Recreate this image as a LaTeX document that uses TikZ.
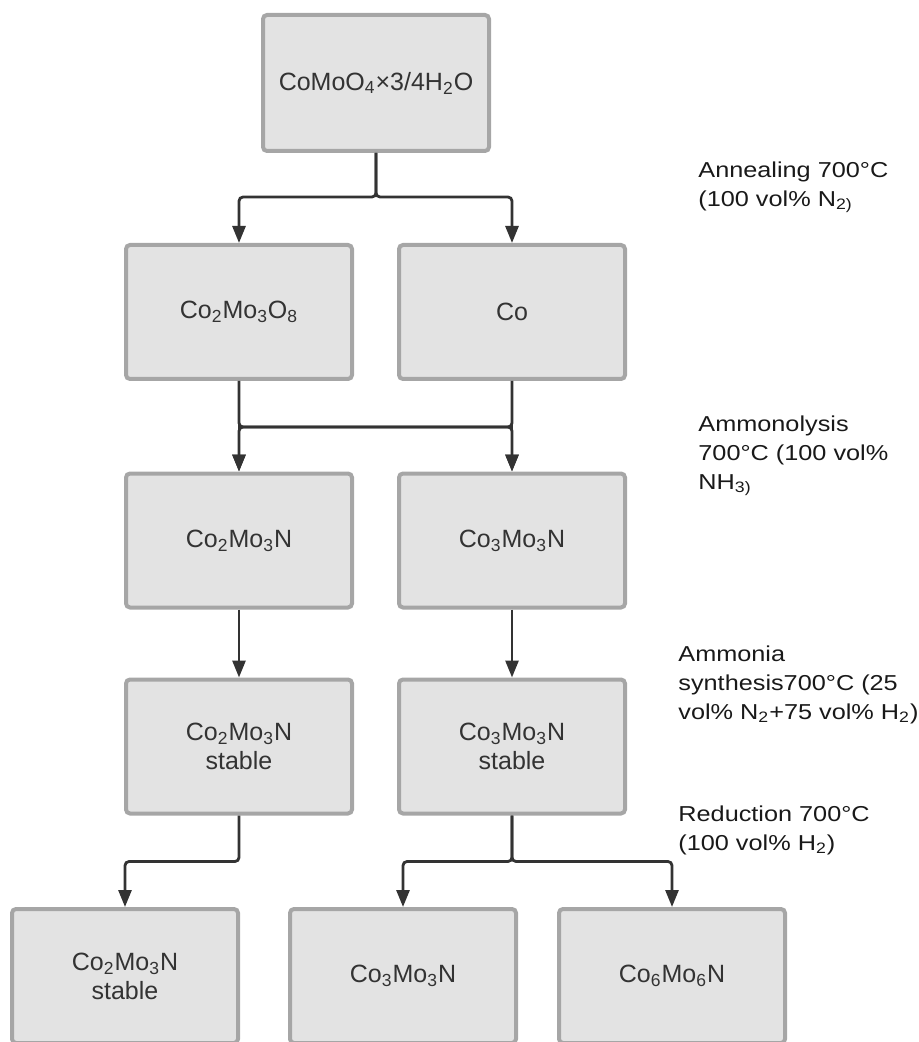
\documentclass[tikz,border=0pt]{standalone}
\usepackage{fontspec}
\setmainfont{Liberation Sans}
\newfontfamily\widefont{Liberation Sans}[FakeStretch=1.17]
\usetikzlibrary{arrows.meta}
\definecolor{BoxFill}{RGB}{227, 227, 227}
\definecolor{BoxEdge}{RGB}{166, 166, 166}
\definecolor{InkGray}{RGB}{51, 51, 51}

\begin{document}
\begin{tikzpicture}[x=0.5pt, y=-0.5pt,
    box/.style={rectangle, rounded corners=2pt, draw=BoxEdge, line width=2pt, fill=BoxFill, text=InkGray, align=center, inner sep=0pt, minimum width=113pt, minimum height=67pt, font=\fontsize{12.5}{14.5}\selectfont},
    link/.style={draw=InkGray, line width=1.4pt, rounded corners=2pt, -{Triangle[length=8.5pt, width=6.5pt]}},
    cond/.style={anchor=north west, align=left, inner sep=0pt, text=black!90, font=\widefont\fontsize{10.8}{14.5}\selectfont}
  ]
  \useasboundingbox (0,0) rectangle (918,1042);

  % boxes
  \node[box, minimum height=68pt] (hydrate) at (376,83) {CoMoO\textsubscript{4}×3/4H\textsubscript{2}O};
  \node[box] (oxide) at (239,312) {Co\textsubscript{2}Mo\textsubscript{3}O\textsubscript{8}};
  \node[box] (cobalt) at (512,312) {Co};
  \node[box] (nitA) at (239,540.5) {Co\textsubscript{2}Mo\textsubscript{3}N};
  \node[box] (nitB) at (512,540.5) {Co\textsubscript{3}Mo\textsubscript{3}N};
  \node[box] (synA) at (239,746.5) {Co\textsubscript{2}Mo\textsubscript{3}N\\stable};
  \node[box] (synB) at (512,746.5) {Co\textsubscript{3}Mo\textsubscript{3}N\\stable};
  \node[box] (redA) at (125,976) {Co\textsubscript{2}Mo\textsubscript{3}N\\stable};
  \node[box] (redB) at (403,976) {Co\textsubscript{3}Mo\textsubscript{3}N};
  \node[box] (redC) at (672,976) {Co\textsubscript{6}Mo\textsubscript{6}N};

  % conditions
  \node[cond] (anneal) at (698,161) {Annealing 700°C\\(100 vol\% N\textsubscript{2)}};
  \node[cond] (ammonol) at (698,415) {Ammonolysis\\700°C (100 vol\%\\NH\textsubscript{3)}};
  \node[cond] (synth) at (678,645) {Ammonia\\synthesis700°C (25\\vol\% N\textsubscript{2}+75 vol\% H\textsubscript{2})};
  \node[cond] (reduct) at (678,805) {Reduction 700°C\\(100 vol\% H\textsubscript{2})};

  % connectors
  \draw[link] (hydrate.south) -- ++(0,44) -| (oxide.north);
  \draw[link] (hydrate.south) -- ++(0,44) -| (cobalt.north);
  \draw[link] (oxide) -- (nitA);
  \draw[link] (cobalt) -- (nitB);
  \draw[link] (oxide.south) -- ++(0,46) -| (nitB.north);
  \draw[link] (cobalt.south) -- ++(0,46) -| (nitA.north);
  \draw[link] (nitA) -- (synA);
  \draw[link] (nitB) -- (synB);
  \draw[link] (synA.south) -- ++(0,46) -| (redA.north);
  \draw[link] (synB.south) -- ++(0,46) -| (redB.north);
  \draw[link] (synB.south) -- ++(0,46) -| (redC.north);
\end{tikzpicture}
\end{document}
